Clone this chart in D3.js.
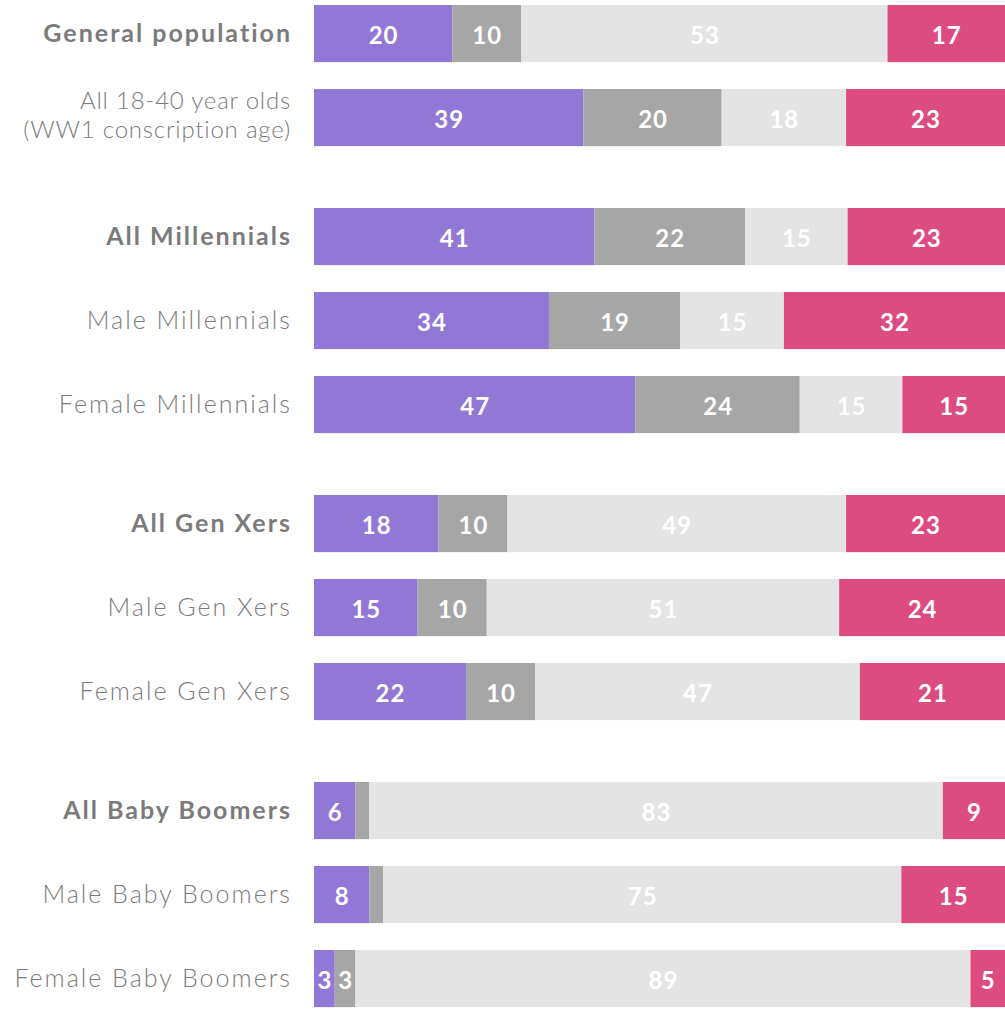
<!DOCTYPE html>
<html>
<head>
<meta charset="utf-8">
<script src="https://cdn.jsdelivr.net/npm/d3@7"></script>
<style>
  body { margin: 0; background: #fff; }
  .rowLabel { font-family: "Lato", sans-serif; fill: #7b7b7b; letter-spacing: 2px; }
  .valLabel { font-family: "Lato", sans-serif; font-weight: 700; fill: #fff; letter-spacing: 1px; }
</style>
</head>
<body>
<div id="chart"></div>
<script>
// ------------ DATA ------------
var categories = [
  "General population",
  "All 18-40 year olds|(WW1 conscription age)",
  "All Millennials",
  "Male Millennials",
  "Female Millennials",
  "All Gen Xers",
  "Male Gen Xers",
  "Female Gen Xers",
  "All Baby Boomers",
  "Male Baby Boomers",
  "Female Baby Boomers"
];
// which group each row belongs to
var groups = [0, 0, 1, 1, 1, 2, 2, 2, 3, 3, 3];
// rows drawn in bold
var boldRows = ["General population", "All Millennials", "All Gen Xers", "All Baby Boomers"];

var seriesA = [20, 39, 41, 34, 47, 18, 15, 22, 6, 8, 3];
var seriesB = [10, 20, 22, 19, 24, 10, 10, 10, 2, 2, 3];
var seriesC = [53, 18, 15, 15, 15, 49, 51, 47, 83, 75, 89];
var seriesD = [17, 23, 23, 32, 15, 23, 24, 21, 9, 15, 5];

var seriesKeys = ["a", "b", "c", "d"];
var seriesColors = ["#9178d6", "#a6a6a6", "#e4e4e4", "#dc4c80"];

// ------------ LAYOUT ------------
var svgWidth = 1005;
var svgHeight = 1015;
var barLeft = 314;
var barRight = 1005;
var rowStep = 84;
var pad = 0.32;
var groupGap = 35;
var chartTop = 5;
var labelX = 292;

var table = categories.map(function(c, i) {
  return { label: c, group: groups[i], a: seriesA[i], b: seriesB[i], c: seriesC[i], d: seriesD[i] };
});

var svg = d3.select("#chart")
  .append("svg")
  .attr("width", svgWidth)
  .attr("height", svgHeight);

// each bar is stretched to the full width (shares of its own total)
var x = d3.scaleLinear()
  .domain([0, 1])
  .range([barLeft, barRight]);

var y = d3.scaleBand()
  .domain(categories)
  .range([chartTop, chartTop + rowStep * (categories.length - pad)])
  .paddingInner(pad)
  .paddingOuter(0);

// shift each group down a little to open a gap between groups
function rowY(d) {
  return y(d.label) + d.group * groupGap;
}

var color = d3.scaleOrdinal().domain(seriesKeys).range(seriesColors);

var stacked = d3.stack()
  .keys(seriesKeys)
  .offset(d3.stackOffsetExpand)(table);

// ------------ BARS ------------
var layers = svg.append("g")
  .selectAll("g")
  .data(stacked)
  .enter()
  .append("g")
  .attr("fill", d => color(d.key));

layers.selectAll("rect")
  .data(d => d)
  .enter()
  .append("rect")
    .attr("x", d => x(d[0]))
    .attr("y", d => rowY(d.data))
    .attr("width", d => x(d[1]) - x(d[0]))
    .attr("height", y.bandwidth());

// value labels (tiny slices stay unlabelled)
layers.each(function(layer) {
  d3.select(this).selectAll("text")
    .data(layer.filter(s => s.data[layer.key] >= 3))
    .enter()
    .append("text")
      .classed("valLabel", true)
      .attr("font-size", "24px")
      .attr("text-anchor", "middle")
      .attr("x", d => (x(d[0]) + x(d[1])) / 2 + 0.5)
      .attr("y", d => rowY(d.data) + y.bandwidth() / 2 + 10)
      .text(d => d.data[layer.key]);
});

// ------------ ROW LABELS ------------
var labels = svg.append("g")
  .selectAll("text")
  .data(table)
  .enter()
  .append("text")
    .classed("rowLabel", true)
    .attr("font-size", "25px")
    .attr("font-weight", d => boldRows.indexOf(d.label) >= 0 ? 700 : 300)
    .attr("text-anchor", "end")
    .attr("x", labelX)
    .attr("y", d => rowY(d) + y.bandwidth() / 2 + 8);

labels.each(function(d) {
  var lines = d.label.split("|");
  var t = d3.select(this);
  if (lines.length > 1) t.style("letter-spacing", "0.8px").attr("font-size", "24px");
  t.selectAll("tspan")
    .data(lines)
    .enter()
    .append("tspan")
      .attr("x", lines.length > 1 ? labelX - 1 : labelX)
      .attr("dy", (l, i) => i === 0 ? (-(lines.length - 1) * 17) + "px" : "29px")
      .text(l => l);
});
</script>
</body>
</html>
